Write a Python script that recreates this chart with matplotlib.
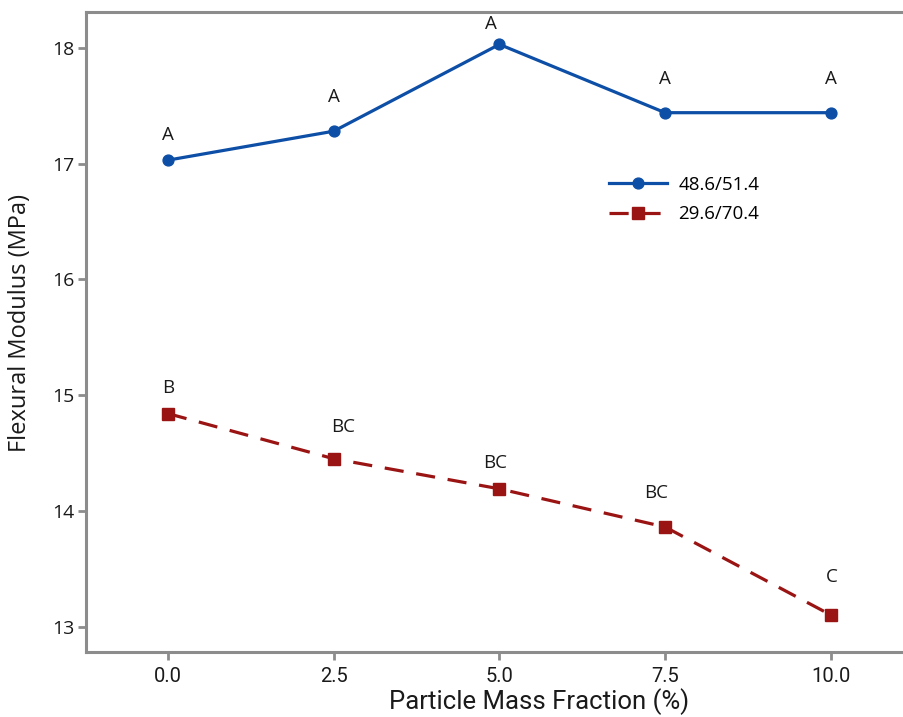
import matplotlib
matplotlib.use("Agg")
import matplotlib.pyplot as plt

x = [0.0, 2.5, 5.0, 7.5, 10.0]
blue_vals = [17.03, 17.28, 18.03, 17.44, 17.44]
red_vals = [14.84, 14.45, 14.19, 13.86, 13.10]
blue_letters = ["A", "A", "A", "A", "A"]
red_letters = ["B", "BC", "BC", "BC", "C"]
blue_name = "48.6/51.4"
red_name = "29.6/70.4"
xticks = [0.0, 2.5, 5.0, 7.5, 10.0]
yticks = [13, 14, 15, 16, 17, 18]

# label offsets (pixels) relative to points
blue_off = [(0, 25), (0, 34), (-8, 20), (0, 34), (0, 34)]
red_off = [(0, 26), (9, 32), (-4, 26), (-9, 34), (1, 38)]

main = "Open Sans"
narrow = "Roboto"

BLUE = "#0d4ea6"
RED = "#9a1414"
GREY = "#8c8c8c"
TXT = "#1a1a1a"

fig = plt.figure(figsize=(9.04, 7.17), dpi=100)
ax = fig.add_axes([86/904, 1-652/717, 827/904, (652-12)/717])

ax.plot(x, blue_vals, color=BLUE, lw=2.3, marker="o", ms=7.8, label=blue_name)
ax.plot(x, red_vals, color=RED, lw=2.3, marker="s", ms=8.4, ls=(0, (6, 4)), label=red_name)

for xi, yi, t, (dx, dy) in zip(x, blue_vals, blue_letters, blue_off):
    ax.annotate(t, (xi, yi), xytext=(dx*0.72, dy*0.72), textcoords="offset points",
                ha="center", va="center", fontsize=13.5, family=main, color=TXT)
for xi, yi, t, (dx, dy) in zip(x, red_vals, red_letters, red_off):
    ax.annotate(t, (xi, yi), xytext=(dx*0.72, dy*0.72), textcoords="offset points",
                ha="center", va="center", fontsize=13.5, family=main, color=TXT)

ax.set_xlim(-1.237, 11.24)
ax.set_ylim(12.78, 18.31)
ax.set_xticks(xticks)
ax.set_xticklabels([f"{v:.1f}" for v in xticks], family=narrow, fontsize=14.5, color=TXT)
ax.set_yticks(yticks)
ax.set_yticklabels([str(v) for v in yticks], family=main, fontsize=14, color=TXT)

for s in ["left", "bottom", "top"]:
    ax.spines[s].set_color(GREY)
    ax.spines[s].set_linewidth(2.2)
ax.spines["right"].set_visible(False)
ax.tick_params(axis="both", direction="out", length=6, width=2, color=GREY)
ax.tick_params(axis="x", pad=5)
ax.tick_params(axis="y", pad=2)

ax.set_xlabel("Particle Mass Fraction (%)", family=narrow, fontsize=18.5, color=TXT)
ax.set_ylabel("Flexural Modulus (MPa)", family=main, fontsize=17, color=TXT)
ax.xaxis.set_label_coords((539-86)/827, -(717-652-2)/640)
ax.xaxis.label.set_va("bottom")
ax.yaxis.set_label_coords((32-86)/827, 1-(323-12)/640)

ax.legend(loc="upper left", bbox_to_anchor=(609/904, 1-176/717), bbox_transform=fig.transFigure,
          frameon=False, handlelength=3.1, handletextpad=0.6,
          labelspacing=0.6, borderpad=0, borderaxespad=0, prop={"family": main, "size": 13.5})

fig.savefig("out.png", dpi=100)
